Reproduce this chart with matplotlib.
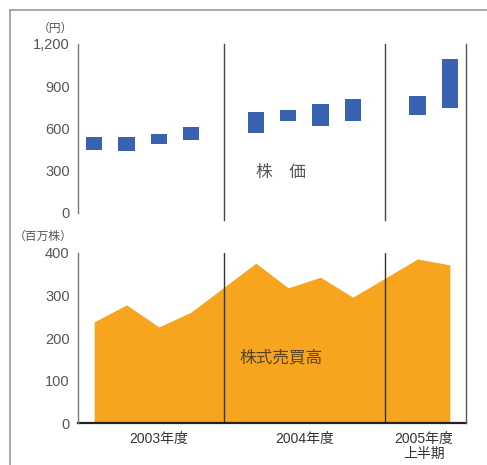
import matplotlib
matplotlib.use("Agg")
import matplotlib.pyplot as plt
from matplotlib.lines import Line2D

plt.rcParams['font.family'] = ['Liberation Sans', 'Noto Sans CJK JP']

# 四半期ごとの位置 (4 と 9 は区切り線)
positions = [0, 1, 2, 3, 5, 6, 7, 8, 10, 11]
price_low = [450, 440, 490, 518, 568, 653, 618, 653, 696, 746]
price_high = [540, 540, 561, 611, 717, 731, 774, 810, 831, 1094]
volume = [238, 278, 226, 261, 376, 318, 343, 296, 386, 372]

year_labels = ['2003年度', '2004年度', '2005年度\n上半期']
year_pos = [2.0, 6.5, 10.2]
dividers = [4, 9]

BLUE = '#3a62b2'
ORANGE = '#f7a51e'
GRAY = '#555555'
W, H = 487, 465

fig = plt.figure(figsize=(W / 100, H / 100), dpi=100)

left = 78 / W
width = (466 - 78) / W
ax1 = fig.add_axes([left, 1 - 213 / H, width, (213 - 44) / H])
ax2 = fig.add_axes([left, 1 - 423 / H, width, (423 - 253) / H])

for ax in (ax1, ax2):
    ax.set_xlim(-0.5, 11.5)
    ax.set_facecolor('none')
    for s in ('top', 'right', 'bottom'):
        ax.spines[s].set_visible(False)
    ax.spines['left'].set_color('#777777')
    ax.spines['left'].set_linewidth(1.0)
    ax.tick_params(axis='y', length=0, labelsize=10.5, labelcolor=GRAY, pad=6)
    ax.set_xticks([])

# 株価
heights = [h - l for h, l in zip(price_high, price_low)]
ax1.bar(positions, heights, bottom=price_low, width=0.5, color=BLUE)
ax1.set_ylim(0, 1200)
ax1.set_yticks([0, 300, 600, 900, 1200])
ax1.set_yticklabels(['0', '300', '600', '900', '1,200'])
for d in dividers:
    ax1.axvline(d, ymin=-0.04, ymax=1, color='#444444', lw=1.0, clip_on=False)
ax1.text(5.77, 290, '株\u3000価', ha='center', va='center', fontsize=12, color=GRAY)

# 株式売買高
ax2.fill_between(positions, volume, 0, color=ORANGE, lw=0)
ax2.set_ylim(0, 400)
ax2.set_yticks([0, 100, 200, 300, 400])
for d in dividers:
    ax2.axvline(d, color='#333333', lw=1.0)
ax2.axhline(0, color='#222222', lw=1.6, clip_on=False)
ax2.text(5.77, 153, '株式売買高', ha='center', va='center', fontsize=12, color='#5a4420')

for lbl, xp in zip(year_labels, year_pos):
    ax2.text(xp, -22, lbl, ha='center', va='top', fontsize=10, color='#333333',
             linespacing=1.05)

# 単位
fig.text(73 / W, 1 - 29 / H, '（円）', ha='right', va='center', fontsize=8.5, color=GRAY)
fig.text(73 / W, 1 - 237 / H, '（百万株）', ha='right', va='center', fontsize=8.5, color=GRAY)

# 右端の縦線と外枠
fig.add_artist(Line2D([466 / W, 466 / W], [1 - 44 / H, 1 - 423 / H], color='#555555', lw=1.0))
fig.add_artist(Line2D([10 / W, 1], [1 - 10 / H, 1 - 10 / H], color='#999999', lw=1.2))
fig.add_artist(Line2D([10 / W, 10 / W], [0, 1 - 10 / H], color='#999999', lw=1.2))

fig.savefig('out.png', dpi=100)
